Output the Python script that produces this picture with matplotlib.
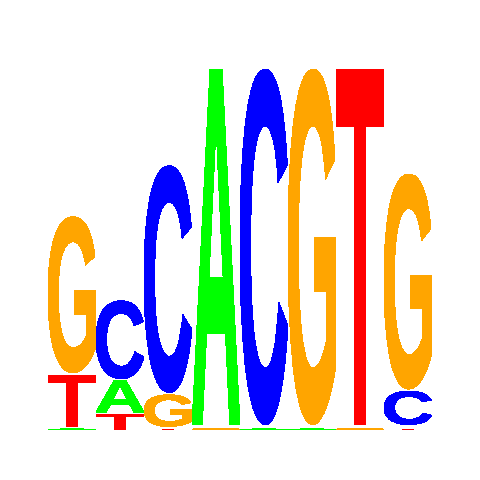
import matplotlib
matplotlib.use("Agg")
import matplotlib.pyplot as plt
from matplotlib.textpath import TextPath
from matplotlib.font_manager import FontProperties
from matplotlib.patches import PathPatch
from matplotlib.transforms import Affine2D

# Sequence logo data: information (bits) carried by each base at each position
positions = [1, 2, 3, 4, 5, 6, 7, 8]
bits_A = [0.008, 0.184, 0.0, 1.976, 0.008, 0.008, 0.0, 0.010]
bits_C = [0.0, 0.442, 1.265, 0.010, 1.976, 0.010, 0.010, 0.197]
bits_G = [0.873, 0.0, 0.187, 0.008, 0.0, 1.976, 0.008, 1.199]
bits_T = [0.297, 0.088, 0.008, 0.0, 0.010, 0.0, 1.976, 0.008]

base_colors = {"A": "#00ff00", "C": "#0000ff", "G": "#ffa500", "T": "#ff0000"}

fig = plt.figure(figsize=(4.8, 4.8), dpi=100)
ax = fig.add_axes([0.1, 50 / 480, 0.8, 362 / 480])
ax.set_xlim(0.5, 8.5)
ax.set_ylim(0, 2)
ax.axis("off")

fp = FontProperties(family="Liberation Sans", weight="bold")
gap = 0.011  # small vertical spacing between stacked letters


def draw_letter(letter, x0, y0, w, h):
    tp = TextPath((0, 0), letter, size=1, prop=fp)
    ext = tp.get_extents()
    tr = (Affine2D()
          .translate(-ext.x0, -ext.y0)
          .scale(w / ext.width, h / ext.height)
          .translate(x0, y0))
    path = tr.transform_path(tp)
    patch = PathPatch(path, facecolor=base_colors[letter], edgecolor="none",
                      antialiased=False)
    ax.add_patch(patch)


for i, pos in enumerate(positions):
    col = [("A", bits_A[i]), ("C", bits_C[i]), ("G", bits_G[i]), ("T", bits_T[i])]
    col = sorted([c for c in col if c[1] > 0], key=lambda c: c[1])
    y = 0.0
    first = True
    for letter, h in col:
        pad = 0.0 if first else gap
        if h - pad > 0:
            draw_letter(letter, pos - 0.5, y + pad, 1.0, h - pad)
        y += h
        first = False

fig.savefig("out.png", dpi=100)
